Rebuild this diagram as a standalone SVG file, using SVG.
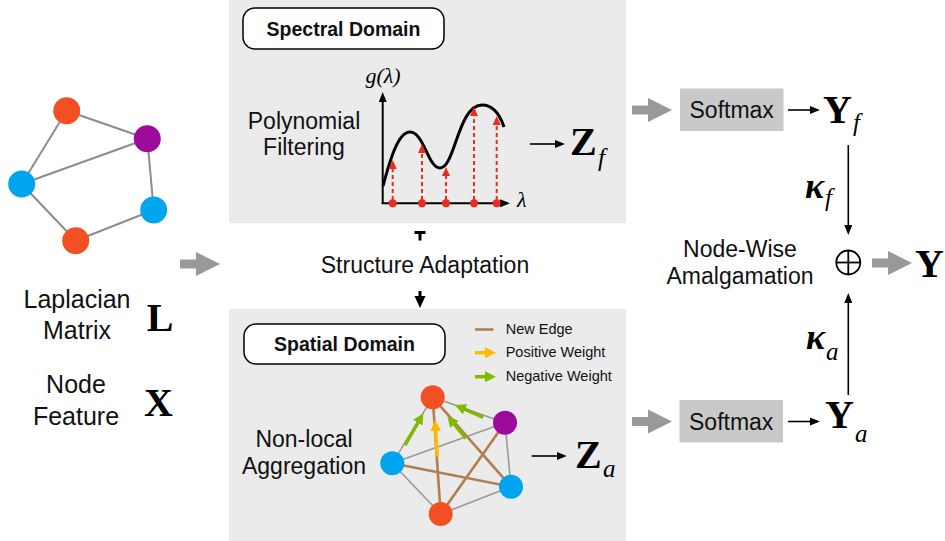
<svg xmlns="http://www.w3.org/2000/svg" width="945" height="541" viewBox="0 0 945 541">
  <defs>
    <style>
      .sans { font-family: "Liberation Sans", Arial, Helvetica, sans-serif; fill: #111; }
      .body { font-size: 23px; text-anchor: middle; }
      .left { font-size: 25px; text-anchor: middle; }
      .tag { font-size: 19.5px; font-weight: bold; text-anchor: middle; }
      .legend { font-size: 14.5px; }
      .math { font-family: "Liberation Serif", "Times New Roman", serif; fill: #000; }
      .big { font-size: 40px; font-weight: bold; }
      .sub { font-size: 25px; font-style: italic; }
      .kappa { font-size: 36px; font-weight: bold; font-style: italic; }
      .ital { font-size: 22px; font-style: italic; }
      .panel { fill: #ebebeb; }
      .tagbox { fill: #fff; stroke: #000; stroke-width: 1.5; }
      .softbox { fill: #c9c9c9; }
      .edge { stroke: #8c8c8c; stroke-width: 2; fill: none; }
      .thin { stroke: #9a9a9a; stroke-width: 1.6; fill: none; }
      .brown { stroke: #b07f4c; stroke-width: 2.6; fill: none; }
      .blk { stroke: #000; stroke-width: 1.6; fill: none; }
      .red { stroke: #ee2b1e; stroke-width: 2; stroke-dasharray: 4 3; fill: none; }
      .green { stroke: #7fba00; stroke-width: 3.5; fill: none; }
      .yellow { stroke: #ffb900; stroke-width: 3.5; fill: none; }
      .orange { fill: #f25022; }
      .purple { fill: #9c0a9c; }
      .blue { fill: #00a4ef; }
    </style>
    <marker id="ah-black" viewBox="0 0 10 8" markerUnits="userSpaceOnUse" markerWidth="10" markerHeight="8" refX="2" refY="4" orient="auto">
      <path d="M0,0 L10,4 L0,8 Z" fill="#000"/>
    </marker>
    <marker id="ah-green" viewBox="0 0 10 10" markerUnits="userSpaceOnUse" markerWidth="11" markerHeight="11" refX="4.5" refY="5" orient="auto">
      <path d="M0,0 L10,5 L0,10 Z" fill="#7fba00"/>
    </marker>
    <marker id="ah-yellow" viewBox="0 0 10 10" markerUnits="userSpaceOnUse" markerWidth="11" markerHeight="11" refX="4.5" refY="5" orient="auto">
      <path d="M0,0 L10,5 L0,10 Z" fill="#ffb900"/>
    </marker>
    <path id="grey-arrow" d="M0,-4.5 H16 V-12 L40,0 L16,12 V4.5 H0 Z" fill="#999"/>
  </defs>

  <rect width="945" height="541" fill="#fff"/>

  <!-- background panels -->
  <rect class="panel" x="229" y="0" width="397" height="223"/>
  <rect class="panel" x="229" y="309" width="397" height="232"/>

  <!-- input graph -->
  <g id="input-graph">
    <line class="edge" x1="66.7" y1="110.7" x2="147.3" y2="138.7"/>
    <line class="edge" x1="66.7" y1="110.7" x2="21.7" y2="184"/>
    <line class="edge" x1="21.7" y1="184" x2="147.3" y2="138.7"/>
    <line class="edge" x1="21.7" y1="184" x2="75.7" y2="240.7"/>
    <line class="edge" x1="75.7" y1="240.7" x2="153.7" y2="210"/>
    <line class="edge" x1="153.7" y1="210" x2="147.3" y2="138.7"/>
    <circle class="orange" cx="66.7" cy="110.7" r="13.5"/>
    <circle class="purple" cx="147.3" cy="138.7" r="13.5"/>
    <circle class="blue" cx="21.7" cy="184" r="13.5"/>
    <circle class="blue" cx="153.7" cy="210" r="13.5"/>
    <circle class="orange" cx="75.7" cy="240.7" r="13.5"/>
  </g>

  <!-- input labels -->
  <g id="input-labels">
    <text class="sans left" x="77" y="308">Laplacian</text>
    <text class="sans left" x="77" y="339">Matrix</text>
    <text class="math big" x="160" y="331" text-anchor="middle">L</text>
    <text class="sans left" x="76" y="393">Node</text>
    <text class="sans left" x="76" y="425">Feature</text>
    <text class="math big" x="158.5" y="416" text-anchor="middle">X</text>
  </g>

  <!-- spectral branch -->
  <g id="spectral">
    <rect class="tagbox" x="243" y="8" width="201" height="41" rx="12"/>
    <text class="sans tag" x="343.5" y="35.5">Spectral Domain</text>
    <text class="sans body" x="304" y="129">Polynomial</text>
    <text class="sans body" x="304" y="155">Filtering</text>

    <!-- filter response plot -->
    <line x1="382.7" y1="204" x2="382.7" y2="100" stroke="#000" stroke-width="2" marker-end="url(#ah-black)"/>
    <line x1="381.7" y1="203.3" x2="502" y2="203.3" stroke="#000" stroke-width="2" marker-end="url(#ah-black)"/>
    <text class="math ital" x="383" y="83" text-anchor="middle">g(λ)</text>
    <text class="math ital" x="517" y="207">λ</text>
    <path d="M383,186 C390,160 398,132 410,132 C424,132 428,168 440,168 C455,168 458,105 482,105 C494,105 500,115 504,127" stroke="#000" stroke-width="3" fill="none"/>

    <line class="red" x1="392.7" y1="200" x2="392.7" y2="168"/>
    <polygon points="388.7,169 392.7,160 396.7,169" fill="#ee2b1e"/>
    <line class="red" x1="422" y1="200" x2="422" y2="152"/>
    <polygon points="418,153 422,144 426,153" fill="#ee2b1e"/>
    <line class="red" x1="446" y1="200" x2="446" y2="175"/>
    <polygon points="442,176 446,167 450,176" fill="#ee2b1e"/>
    <line class="red" x1="474" y1="200" x2="474" y2="115"/>
    <polygon points="470,116 474,107 478,116" fill="#ee2b1e"/>
    <line class="red" x1="496.7" y1="200" x2="496.7" y2="124"/>
    <polygon points="492.7,125 496.7,116 500.7,125" fill="#ee2b1e"/>
    <circle cx="392.7" cy="203.3" r="4" fill="#ee2b1e"/>
    <circle cx="422" cy="203.3" r="4" fill="#ee2b1e"/>
    <circle cx="446" cy="203.3" r="4" fill="#ee2b1e"/>
    <circle cx="474" cy="203.3" r="4" fill="#ee2b1e"/>
    <circle cx="496.7" cy="203.3" r="4" fill="#ee2b1e"/>

    <text class="math big" x="570" y="155">Z</text>
    <text class="math sub" x="598" y="166">f</text>
  </g>

  <!-- structure adaptation -->
  <g id="structure-adaptation">
    <text class="sans body" x="425" y="273">Structure Adaptation</text>
  </g>

  <!-- spatial branch -->
  <g id="spatial">
    <rect class="tagbox" x="244" y="324" width="201" height="40" rx="12"/>
    <text class="sans tag" x="344.5" y="351">Spatial Domain</text>
    <text class="sans body" x="304" y="447">Non-local</text>
    <text class="sans body" x="304" y="474">Aggregation</text>

    <!-- legend -->
    <line class="brown" x1="475" y1="329.5" x2="493.5" y2="329.5"/>
    <text class="sans legend" x="505.7" y="334">New Edge</text>
    <line class="yellow" x1="475" y1="352.7" x2="490" y2="352.7" marker-end="url(#ah-yellow)"/>
    <text class="sans legend" x="505.7" y="357.3">Positive Weight</text>
    <line class="green" x1="475" y1="376.7" x2="490" y2="376.7" marker-end="url(#ah-green)"/>
    <text class="sans legend" x="505.7" y="380.5">Negative Weight</text>

    <!-- adapted graph -->
    <line class="thin" x1="432.7" y1="397.3" x2="505" y2="422.7"/>
    <line class="thin" x1="432.7" y1="397.3" x2="392.3" y2="463.3"/>
    <line class="thin" x1="392.3" y1="463.3" x2="505" y2="422.7"/>
    <line class="thin" x1="392.3" y1="463.3" x2="440.7" y2="514"/>
    <line class="thin" x1="440.7" y1="514" x2="511" y2="486.7"/>
    <line class="thin" x1="511" y1="486.7" x2="505" y2="422.7"/>
    <line class="brown" x1="432.7" y1="397.3" x2="440.7" y2="514"/>
    <line class="brown" x1="392.3" y1="463.3" x2="511" y2="486.7"/>
    <line class="brown" x1="440.7" y1="514" x2="505" y2="422.7"/>
    <line class="brown" x1="432.7" y1="397.3" x2="511" y2="486.7"/>

    <line class="green" x1="405" y1="445" x2="420.3" y2="418.5" marker-end="url(#ah-green)"/>
    <line class="yellow" x1="437.3" y1="456.7" x2="435.4" y2="426" marker-end="url(#ah-yellow)"/>
    <line class="green" x1="466" y1="438.3" x2="451.2" y2="420.6" marker-end="url(#ah-green)"/>
    <line class="green" x1="483.3" y1="417.3" x2="460.5" y2="407.4" marker-end="url(#ah-green)"/>

    <circle class="orange" cx="432.7" cy="397.3" r="12"/>
    <circle class="purple" cx="505" cy="422.7" r="12"/>
    <circle class="blue" cx="392.3" cy="463.3" r="12"/>
    <circle class="blue" cx="511" cy="486.7" r="12"/>
    <circle class="orange" cx="440.7" cy="514" r="12"/>

    <text class="math big" x="575" y="468">Z</text>
    <text class="math sub" x="603" y="477">a</text>
  </g>

  <!-- softmax heads -->
  <g id="softmax-f">
    <rect class="softbox" x="680" y="88.5" width="103.5" height="42.5"/>
    <text class="sans body" x="731.7" y="118">Softmax</text>
  </g>
  <g id="softmax-a">
    <rect class="softbox" x="679.5" y="400" width="103.5" height="42.5"/>
    <text class="sans body" x="731.2" y="429.5">Softmax</text>
  </g>

  <!-- outputs -->
  <g id="output-f">
    <text class="math big" x="823" y="123">Y</text>
    <text class="math sub" x="853" y="131">f</text>
  </g>
  <g id="output-a">
    <text class="math big" x="825" y="428">Y</text>
    <text class="math sub" x="855" y="442">a</text>
  </g>
  <g id="amalgamation">
    <text class="sans body" x="740" y="257">Node-Wise</text>
    <text class="sans body" x="740" y="283.5">Amalgamation</text>
    <circle cx="848.3" cy="262.5" r="12" fill="none" stroke="#000" stroke-width="1.8"/>
    <line x1="836.3" y1="262.5" x2="860.3" y2="262.5" stroke="#000" stroke-width="1.8"/>
    <line x1="848.3" y1="250.5" x2="848.3" y2="274.5" stroke="#000" stroke-width="1.8"/>
  </g>
  <g id="output">
    <text class="math big" x="915" y="277">Y</text>
  </g>
  <g id="weights">
    <text class="math kappa" x="805" y="198">κ</text>
    <text class="math sub" x="825" y="206">f</text>
    <text class="math kappa" x="806" y="348.5">κ</text>
    <text class="math sub" x="826" y="360">a</text>
  </g>

  <!-- connectors -->
  <g id="connectors">
    <use href="#grey-arrow" x="180" y="264"/>
    <use href="#grey-arrow" x="632" y="110"/>
    <use href="#grey-arrow" x="632" y="421.5"/>
    <use href="#grey-arrow" x="872" y="263"/>

    <line class="blk" x1="530" y1="144" x2="557" y2="144" marker-end="url(#ah-black)"/>
    <line class="blk" x1="531.7" y1="456" x2="558.7" y2="456" marker-end="url(#ah-black)"/>
    <line class="blk" x1="788" y1="110" x2="812" y2="110" marker-end="url(#ah-black)"/>
    <line class="blk" x1="788" y1="421.5" x2="812" y2="421.5" marker-end="url(#ah-black)"/>
    <line class="blk" x1="848.3" y1="145" x2="848.3" y2="227" marker-end="url(#ah-black)"/>
    <line class="blk" x1="848.3" y1="395" x2="848.3" y2="301" marker-end="url(#ah-black)"/>

    <!-- spectral to spatial hand-off through structure adaptation -->
    <path d="M414.5,232.5 H425.5 M420,232 V240.5" stroke="#000" stroke-width="3" fill="none"/>
    <line x1="420" y1="291" x2="420" y2="299" stroke="#000" stroke-width="3"/>
    <polygon points="414.5,296 425.5,296 420,308" fill="#000"/>
  </g>
</svg>
